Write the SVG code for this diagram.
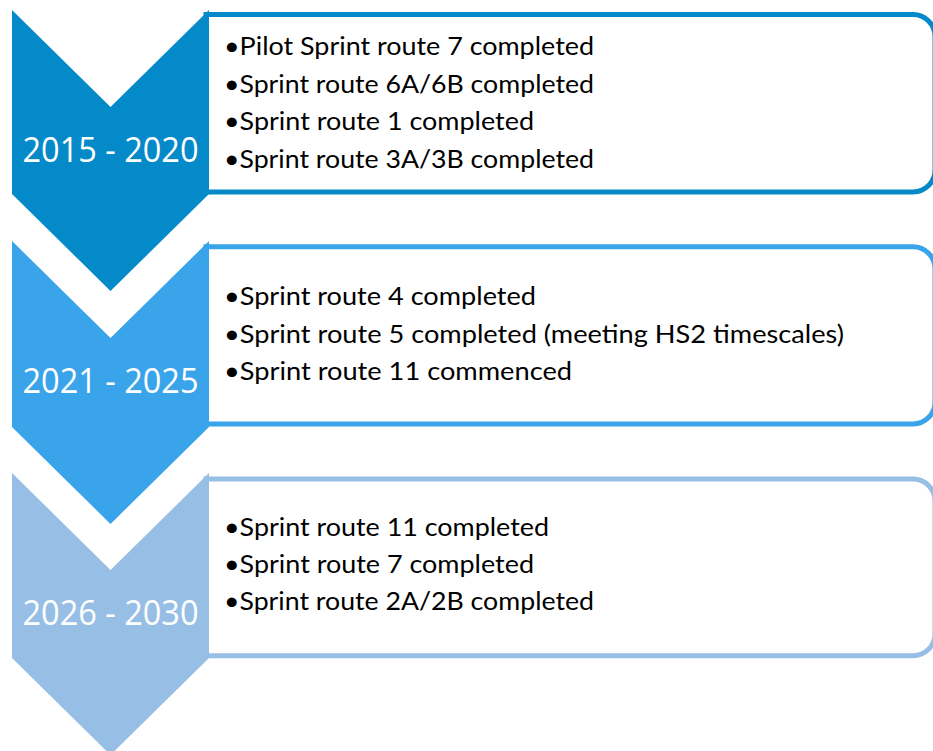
<svg xmlns="http://www.w3.org/2000/svg" width="933" height="751" viewBox="0 0 933 751">
<style>
.box{fill:#ffffff;stroke-width:5}
.yr{font-family:"Open Sans","Liberation Sans",sans-serif;font-size:35px;fill:#ffffff;text-anchor:middle}
.tx{font-family:"Lato","Liberation Sans",sans-serif;font-size:25px;fill:#000000}
.c1{fill:#0489C9}.s1{stroke:#0489C9}
.c2{fill:#3AA4EB}.s2{stroke:#3AA4EB}
.c3{fill:#97BFE6}.s3{stroke:#97BFE6}
</style>
<rect width="933" height="751" fill="#ffffff"/>
<g id="stage-2015-2020">
<path class="box s1" d="M206,14.5 H913 A22,22 0 0 1 935,36.5 V170 A22,22 0 0 1 913,192 H206 Z"/>
<path class="c1" d="M12,10 L110.5,107 L209,10 L209,194 L110.5,291 L12,194 Z"/>
<text class="yr" x="110.5" y="161.7" textLength="176" lengthAdjust="spacingAndGlyphs">2015 - 2020</text>
<text class="tx" x="224" y="55" textLength="370" lengthAdjust="spacingAndGlyphs">•Pilot Sprint route 7 completed</text>
<text class="tx" x="224" y="92.5" textLength="370" lengthAdjust="spacingAndGlyphs">•Sprint route 6A/6B completed</text>
<text class="tx" x="224" y="130" textLength="310" lengthAdjust="spacingAndGlyphs">•Sprint route 1 completed</text>
<text class="tx" x="224" y="167.5" textLength="370" lengthAdjust="spacingAndGlyphs">•Sprint route 3A/3B completed</text>
</g>
<g id="stage-2021-2025">
<path class="box s2" d="M206,246.7 H913 A22,22 0 0 1 935,268.7 V402 A22,22 0 0 1 913,424 H206 Z"/>
<path class="c2" d="M12,241 L110.5,338 L209,241 L209,427 L110.5,524 L12,427 Z"/>
<text class="yr" x="110.5" y="393.3" textLength="176" lengthAdjust="spacingAndGlyphs">2021 - 2025</text>
<text class="tx" x="224" y="305" textLength="312" lengthAdjust="spacingAndGlyphs">•Sprint route 4 completed</text>
<text class="tx" x="224" y="342.7" textLength="620" lengthAdjust="spacingAndGlyphs">•Sprint route 5 completed (meeting HS2 timescales)</text>
<text class="tx" x="224" y="380" textLength="348" lengthAdjust="spacingAndGlyphs">•Sprint route 11 commenced</text>
</g>
<g id="stage-2026-2030">
<path class="box s3" d="M206,479 H913 A22,22 0 0 1 935,501 V633.7 A22,22 0 0 1 913,655.7 H206 Z"/>
<path class="c3" d="M12,473 L110.5,570 L209,473 L209,658 L110.5,755 L12,658 Z"/>
<text class="yr" x="110.5" y="625" textLength="176" lengthAdjust="spacingAndGlyphs">2026 - 2030</text>
<text class="tx" x="224" y="536" textLength="325" lengthAdjust="spacingAndGlyphs">•Sprint route 11 completed</text>
<text class="tx" x="224" y="573" textLength="310" lengthAdjust="spacingAndGlyphs">•Sprint route 7 completed</text>
<text class="tx" x="224" y="610" textLength="370" lengthAdjust="spacingAndGlyphs">•Sprint route 2A/2B completed</text>
</g>
<g id="connectors"></g>
</svg>
